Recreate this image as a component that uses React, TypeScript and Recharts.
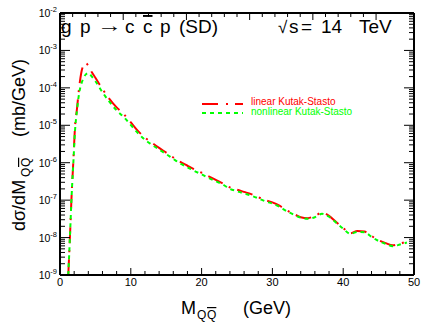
import React from 'react';
import { LineChart, Line, XAxis, YAxis, Legend } from 'recharts';

// M_QQbar (GeV)
const massGeV = [
  1.17, 1.4, 1.65, 1.9, 2.1, 2.4, 2.7, 3.0, 3.3, 3.6, 4.0, 4.5, 5, 6, 7, 8, 9, 10,
  11, 12, 13, 14, 15, 16, 17, 18, 19, 20, 21, 22, 23, 24, 25, 26, 27, 28, 29, 30,
  31, 32, 33, 34, 35, 36, 37, 38, 39, 40, 41, 42, 43, 44, 45, 46, 47, 48, 49,
];

// dsigma/dM (mb/GeV), linear Kutak-Stasto
const linearKS = [
  1.0e-9, 1.0e-8, 1.48e-7, 1.26e-6, 7.9e-6, 2.8e-5, 1.0e-4, 2.5e-4, 4.0e-4, 4.6e-4,
  3.9e-4, 2.6e-4, 1.86e-4, 9.3e-5, 5.0e-5, 3.0e-5, 2.0e-5, 1.2e-5,
  7.1e-6, 4.7e-6, 3.4e-6, 2.5e-6, 1.86e-6, 1.38e-6, 1.05e-6, 8.3e-7, 6.6e-7, 5.4e-7,
  4.3e-7, 3.5e-7, 2.8e-7, 2.2e-7, 1.9e-7, 1.66e-7, 1.45e-7, 1.2e-7, 1.0e-7, 8.7e-8,
  7.1e-8, 5.4e-8, 4.3e-8, 3.5e-8, 3.3e-8, 3.8e-8, 4.6e-8, 3.8e-8, 2.6e-8, 1.8e-8,
  1.3e-8, 1.5e-8, 1.45e-8, 1.1e-8, 8.5e-9, 7.1e-9, 6.2e-9, 6.8e-9, 7.9e-9,
];

// dsigma/dM (mb/GeV), nonlinear Kutak-Stasto
const nonlinearKS = [
  1.0e-9, 1.0e-8, 1.41e-7, 1.12e-6, 6.3e-6, 2.5e-5, 7.1e-5, 1.26e-4, 1.78e-4, 2.24e-4,
  2.5e-4, 2.0e-4, 1.5e-4, 7.6e-5, 4.2e-5, 2.5e-5, 1.66e-5, 1.02e-5,
  6.2e-6, 4.1e-6, 3.0e-6, 2.24e-6, 1.7e-6, 1.26e-6, 9.5e-7, 7.6e-7, 6.0e-7, 4.9e-7,
  3.9e-7, 3.2e-7, 2.6e-7, 2.0e-7, 1.74e-7, 1.51e-7, 1.32e-7, 1.12e-7, 9.3e-8, 8.1e-8,
  6.6e-8, 5.1e-8, 4.1e-8, 3.4e-8, 3.2e-8, 3.5e-8, 4.3e-8, 3.6e-8, 2.5e-8, 1.74e-8,
  1.26e-8, 1.41e-8, 1.38e-8, 1.05e-8, 8.1e-9, 6.8e-9, 5.9e-9, 6.5e-9, 7.4e-9,
];

const xTickValues = [0, 2, 4, 6, 8, 10, 12, 14, 16, 18, 20, 22, 24, 26, 28, 30, 32, 34, 36, 38, 40, 42, 44, 46, 48, 50];
const xMajorTicks = [0, 10, 20, 30, 40, 50];
const yDecades = [-9, -8, -7, -6, -5, -4, -3, -2];
const yMantissas = [1, 2, 3, 4, 5, 6, 7, 8, 9];

const data = massGeV.map((m, i) => ({ m, lin: linearKS[i], nonlin: nonlinearKS[i] }));

const yTicks: number[] = [];
yDecades.forEach((e) => {
  if (e === yDecades[yDecades.length - 1]) {
    yTicks.push(Number(`1e${e}`));
  } else {
    yMantissas.forEach((k) => yTicks.push(Number(`${k}e${e}`)));
  }
});
const yMajorSet = new Set(yDecades.map((e) => Number(`1e${e}`)));
const xMajorSet = new Set(xMajorTicks);

const FONT = '"Liberation Sans", Arial, Helvetica, sans-serif';
const W = 421;
const H = 322;

const LeftTick = (props: any) => {
  const { x, y, payload } = props;
  const v = payload.value;
  const major = yMajorSet.has(v);
  const exp = Math.round(Math.log10(v));
  return (
    <g>
      <line x1={x} y1={y} x2={x + (major ? 10 : 5)} y2={y} stroke="#000" strokeWidth={1} />
      {major && (
        <text x={x - 3} y={y + 4} textAnchor="end" fontSize={10.5} fontFamily={FONT} fill="#000">
          10
          <tspan dy={-5} fontSize={7.5}>{`-${Math.abs(exp)}`}</tspan>
        </text>
      )}
    </g>
  );
};

const RightTick = (props: any) => {
  const { x, y, payload } = props;
  const major = yMajorSet.has(payload.value);
  return <line x1={x} y1={y} x2={x - (major ? 10 : 5)} y2={y} stroke="#000" strokeWidth={1} />;
};

const BottomTick = (props: any) => {
  const { x, y, payload } = props;
  const major = xMajorSet.has(payload.value);
  return (
    <g>
      <line x1={x} y1={y} x2={x} y2={y - (major ? 7 : 4)} stroke="#000" strokeWidth={1} />
      {major && (
        <text x={x} y={y + 11} textAnchor="middle" fontSize={11} fontFamily={FONT} fill="#000">
          {payload.value}
        </text>
      )}
    </g>
  );
};

const TopTick = (props: any) => {
  const { x, y, payload } = props;
  const major = xMajorSet.has(payload.value);
  return <line x1={x} y1={y} x2={x} y2={y + (major ? 7 : 4)} stroke="#000" strokeWidth={1} />;
};

const LegendBox = () => (
  <svg width={220} height={28} style={{ display: 'block', overflow: 'visible' }}>
    <line x1={2} y1={10} x2={43} y2={10} stroke="#ff0000" strokeWidth={2} strokeDasharray="16 8 2 7" />
    <text x={51} y={11} fontSize={10} fontFamily={FONT} fill="#ff0000">linear Kutak-Stasto</text>
    <line x1={2} y1={19} x2={43} y2={19} stroke="#00ff00" strokeWidth={2} strokeDasharray="4 4" />
    <text x={51} y={21} fontSize={10} fontFamily={FONT} fill="#00ff00">nonlinear Kutak-Stasto</text>
  </svg>
);

const axisLineStyle = { stroke: '#000', strokeWidth: 2 };

export default function App() {
  return (
    <div style={{ position: 'absolute', left: 0, top: 0, width: W, height: H, background: '#fff' }}>
      <LineChart width={W} height={H} data={data} margin={{ top: 0, right: 0, bottom: 0, left: 0 }}>
        <XAxis
          dataKey="m"
          type="number"
          domain={[0, 50]}
          ticks={xTickValues}
          interval={0}
          allowDataOverflow
          height={47}
          tickSize={0}
          tickMargin={0}
          tickLine={false}
          axisLine={axisLineStyle}
          tick={<BottomTick />}
        />
        <XAxis
          xAxisId="top"
          orientation="top"
          type="number"
          domain={[0, 50]}
          ticks={xTickValues}
          interval={0}
          allowDataOverflow
          height={13}
          tickSize={0}
          tickMargin={0}
          tickLine={false}
          axisLine={axisLineStyle}
          tick={<TopTick />}
        />
        <YAxis
          scale="log"
          type="number"
          domain={[1e-9, 1e-2]}
          ticks={yTicks}
          interval={0}
          allowDataOverflow
          width={60}
          tickSize={0}
          tickMargin={0}
          tickLine={false}
          axisLine={axisLineStyle}
          tick={<LeftTick />}
        />
        <YAxis
          yAxisId="right"
          orientation="right"
          scale="log"
          type="number"
          domain={[1e-9, 1e-2]}
          ticks={yTicks}
          interval={0}
          allowDataOverflow
          width={7}
          tickSize={0}
          tickMargin={0}
          tickLine={false}
          axisLine={axisLineStyle}
          tick={<RightTick />}
        />
        <Legend
          layout="vertical"
          align="center"
          verticalAlign="middle"
          wrapperStyle={{ position: 'absolute', left: 200, top: 94, width: 220, height: 28 }}
          content={() => <LegendBox />}
        />
        <Line
          type="monotone"
          dataKey="lin"
          name="linear Kutak-Stasto"
          stroke="#ff0000"
          strokeWidth={2}
          strokeDasharray="16 7 2 7"
          dot={false}
          activeDot={false}
          isAnimationActive={false}
        />
        <Line
          type="monotone"
          dataKey="nonlin"
          name="nonlinear Kutak-Stasto"
          stroke="#00ff00"
          strokeWidth={2}
          strokeDasharray="4 4"
          dot={false}
          activeDot={false}
          isAnimationActive={false}
        />
      </LineChart>
      <svg
        width={W}
        height={H}
        style={{ position: 'absolute', left: 0, top: 0, pointerEvents: 'none' }}
      >
        <g fontFamily={FONT} fill="#000">
          <text y={33} fontSize={19}>
            <tspan x={61}>g</tspan>
            <tspan x={80}>p</tspan>
            <tspan x={125}>c</tspan>
            <tspan x={143} style={{ textDecoration: 'overline' }}>c</tspan>
            <tspan x={160}>p</tspan>
            <tspan x={179}>(SD)</tspan>
          </text>
          <text x={97} y={32} fontSize={19} textLength={25} lengthAdjust="spacingAndGlyphs">→</text>
          <text x={278} y={33} fontSize={17}>√</text>
          <text y={33} fontSize={19}>
            <tspan x={289}>s</tspan>
            <tspan x={301}>=</tspan>
            <tspan x={321}>14</tspan>
            <tspan x={359}>TeV</tspan>
          </text>
          <text y={314} fontSize={18}>
            <tspan x={181}>M</tspan>
            <tspan x={197} dy={5} fontSize={12}>Q</tspan>
            <tspan x={207} fontSize={12} style={{ textDecoration: 'overline' }}>Q</tspan>
            <tspan x={243} dy={-5}>(GeV)</tspan>
          </text>
          <text transform="translate(25,231) rotate(-90)" fontSize={18}>
            <tspan x={0}>dσ/dM</tspan>
            <tspan x={54} dy={5} fontSize={12}>Q</tspan>
            <tspan x={64} fontSize={12} style={{ textDecoration: 'overline' }}>Q</tspan>
            <tspan x={94} dy={-5}>(mb/GeV)</tspan>
          </text>
        </g>
      </svg>
    </div>
  );
}
